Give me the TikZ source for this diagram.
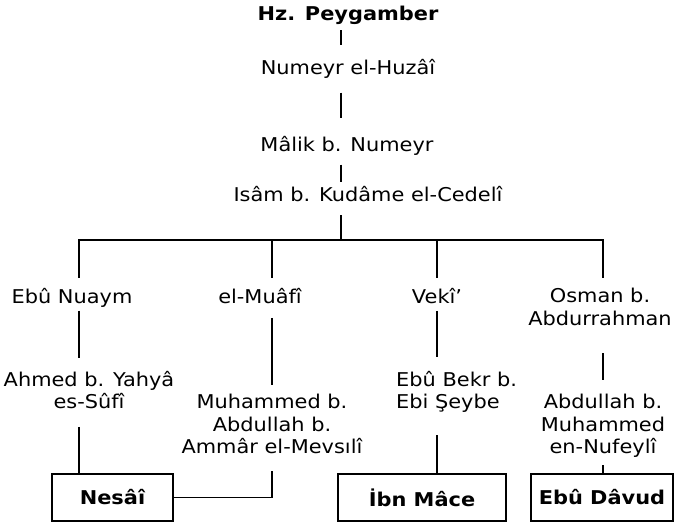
\documentclass[tikz,border=0pt]{standalone}
\usepackage{fontspec}
\setmainfont{DejaVu Sans}[FakeStretch=1.1]
\newcommand{\treefont}{\fontsize{19}{22.5}\selectfont}

\begin{document}
\begin{tikzpicture}[x=1pt,y=-1pt]
    \tikzset{person/.style={inner sep=0pt, anchor=north, align=center, font=\treefont},
             box/.style={draw, line width=1.2pt, inner sep=0pt, minimum height=47pt, font=\treefont\bfseries},
             link/.style={draw, line width=1.4pt}}
    \useasboundingbox (0,0) rectangle (680,526);

    \node[person, font=\treefont\bfseries] (HP) at (348,6) {Hz. Peygamber};
    \node[person] (NH) at (348,59.5) {Numeyr el-Huzâî};
    \node[person] (MN) at (347,136.5) {Mâlik b. Numeyr};
    \node[person] (IK) at (368,186.5) {Isâm b. Kudâme el-Cedelî};
    \coordinate (J) at (341,240);
    \coordinate (L) at (79,240);

    \node[person] (EN) at (72,288) {Ebû Nuaym};
    \node[person] (MU) at (260,288) {el-Muâfî};
    \node[person] (VE) at (437,288) {Vekî’};
    \node[person] (OA) at (600,288) {Osman b.\\Abdurrahman};

    \node[person] (AY) at (89,371) {Ahmed b. Yahyâ\\es-Sûfî};
    \node[person] (MA) at (272,394) {Muhammed b.\\Abdullah b.\\Ammâr el-Mevsılî};
    \node[person, anchor=north west, align=left] (EB) at (396,371) {Ebû Bekr b.\\Ebi Şeybe};
    \node[person] (AM) at (603,394) {Abdullah b.\\Muhammed\\en-Nufeylî};

    \node[box, minimum width=121pt] (NS) at (112.5,497.5) {Nesâî};
    \node[box, minimum width=168pt] (IM) at (422,497.5) {İbn Mâce};
    \node[box, minimum width=142pt] (ED) at (602,497.5) {Ebû Dâvud};

    % top chain
    \draw[link, shorten <=5.5pt, shorten >=14.5pt] (J |- HP.south) -- (J |- NH.north);
    \draw[link, shorten <=13.5pt, shorten >=18.5pt] (J |- NH.south) -- (J |- MN.north);
    \draw[link, shorten <=8.5pt, shorten >=4.5pt] (J |- MN.south) -- (J |- IK.north);
    \draw[link, shorten <=13pt] (IK.south -| J) -- (J);

    % the bar
    \draw[link, shorten <=10pt] (EN.north -| L) |- (J);
    \draw[link, shorten <=10pt] (MU.north -| MA) |- (J);
    \draw[link, shorten <=10pt] (VE) |- (J);
    \draw[link, shorten <=10pt] (OA.north -| AM) |- (J);

    % second level
    \draw[link, shorten <=3pt, shorten >=13pt] (EN.south -| L) -- (L |- AY.north);
    \draw[link, shorten <=14pt, shorten >=9pt] (MU.south -| MA) -- (MA.north);
    \draw[link, shorten <=7pt, shorten >=14pt] (VE) -- (VE |- EB.north);
    \draw[link, shorten <=27.5pt, shorten >=14pt] (OA.south -| AM) -- (AM.north);

    % down to the books
    \draw[link, shorten <=17.5pt] (L |- AY.south) -- (L |- NS.north);
    \draw[link, shorten <=17pt] (MA) |- (NS);
    \draw[link, shorten <=22pt] (VE |- EB.south) -- (VE |- IM.north);
    \draw[link, shorten <=7.5pt] (AM) -- (AM |- ED.north);
\end{tikzpicture}
\end{document}
